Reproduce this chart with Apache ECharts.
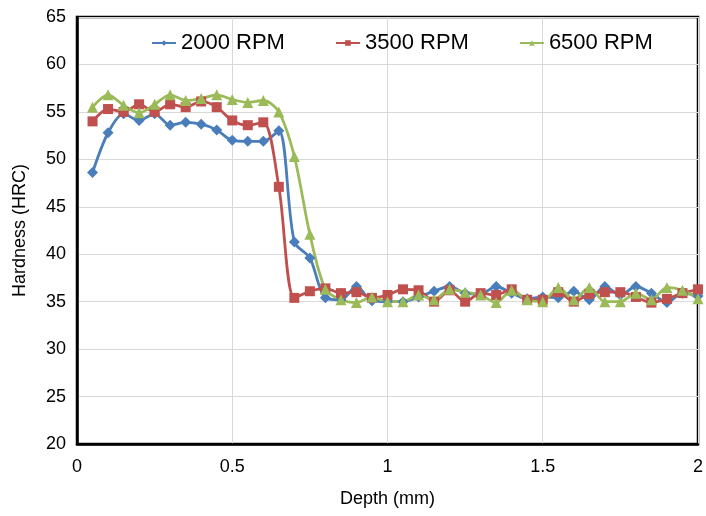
<!DOCTYPE html>
<html>
<head>
<meta charset="utf-8">
<script src="https://cdn.jsdelivr.net/npm/echarts@6/dist/echarts.min.js"></script>
<style>
    html, body { margin: 0; padding: 0; background: #fff; }
    #main-chart { width: 706px; height: 516px; }
</style>
</head>
<body>
<div id="main-chart"></div>
<script>
var depth = [0.05, 0.1, 0.15, 0.2, 0.25, 0.3, 0.35, 0.4, 0.45, 0.5,
    0.55, 0.6, 0.65, 0.7, 0.75, 0.8, 0.85, 0.9, 0.95, 1.0,
    1.05, 1.1, 1.15, 1.2, 1.25, 1.3, 1.35, 1.4, 1.45, 1.5,
    1.55, 1.6, 1.65, 1.7, 1.75, 1.8, 1.85, 1.9, 1.95, 2.0];

var rpm2000 = [48.6, 52.8, 54.8, 54.1, 54.8, 53.6, 53.9, 53.7, 53.1, 52.0,
    51.9, 51.9, 53.0, 41.3, 39.6, 35.4, 35.2, 36.6, 35.1, 35.0,
    35.0, 35.5, 36.1, 36.6, 35.9, 35.8, 36.6, 35.9, 35.3, 35.5,
    35.4, 36.1, 35.2, 36.6, 35.7, 36.6, 35.9, 34.9, 35.9, 35.6];

var rpm3500 = [54.0, 55.3, 55.0, 55.8, 55.0, 55.8, 55.5, 56.1, 55.5, 54.1,
    53.6, 53.9, 47.1, 35.4, 36.1, 36.4, 35.9, 36.0, 35.4, 35.7,
    36.3, 36.2, 35.0, 36.2, 35.0, 35.9, 35.7, 36.3, 35.2, 35.2,
    36.0, 35.0, 35.8, 36.0, 36.0, 35.5, 34.9, 35.3, 35.9, 36.3];

var rpm6500 = [55.5, 56.8, 55.7, 54.9, 55.8, 56.8, 56.2, 56.4, 56.8, 56.3,
    56.0, 56.2, 55.0, 50.3, 42.1, 36.3, 35.2, 34.9, 35.5, 35.0,
    35.0, 35.7, 35.2, 36.3, 36.0, 35.7, 34.9, 36.2, 35.2, 35.0,
    36.5, 35.2, 36.5, 35.0, 35.0, 35.9, 35.2, 36.5, 36.2, 35.3];

var seriesNames = ['2000 RPM', '3500 RPM', '6500 RPM'];
var seriesColors = ['#4a7ebb', '#c0504d', '#9bbb59'];

function pairUp(values) {
    var out = [];
    for (var i = 0; i < depth.length; i++) {
        out.push([depth[i], values[i]]);
    }
    return out;
}

var mainChart = echarts.init(document.getElementById('main-chart'));
var font = 'Liberation Sans, Arial, sans-serif';

var mainOpt = {
    animation: false,
    color: seriesColors,
    textStyle: { fontFamily: font },
    grid: {
        left: 77, right: 3, top: 17, bottom: 72,
        show: true,
        borderColor: '#000',
        borderWidth: 2.5
    },
    legend: {
        top: 27,
        left: 146,
        itemWidth: 24,
        itemHeight: 7,
        itemGap: 50,
        textStyle: { fontSize: 22, color: '#000', fontFamily: font },
        data: seriesNames
    },
    xAxis: {
        type: 'value',
        min: 0,
        max: 2,
        interval: 0.5,
        name: 'Depth (mm)',
        nameLocation: 'middle',
        nameGap: 46,
        nameTextStyle: { fontSize: 18, color: '#000' },
        axisLine: { lineStyle: { color: '#000', width: 2.5 } },
        axisTick: { show: false },
        axisLabel: { fontSize: 18, color: '#000', margin: 14 },
        splitLine: { lineStyle: { color: '#d9d9d9', width: 1 } }
    },
    yAxis: {
        type: 'value',
        min: 20,
        max: 65,
        interval: 5,
        name: 'Hardness (HRC)',
        nameLocation: 'middle',
        nameGap: 48,
        nameTextStyle: { fontSize: 18, color: '#000' },
        axisLine: { show: true, lineStyle: { color: '#000', width: 2.5 } },
        axisTick: { show: false },
        axisLabel: { fontSize: 18, color: '#000', margin: 11 },
        splitLine: { lineStyle: { color: '#d9d9d9', width: 1 } }
    },
    series: [{
        name: seriesNames[0],
        type: 'line',
        smooth: 0.3,
        symbol: 'diamond',
        symbolSize: 11,
        lineStyle: { width: 2.8 },
        data: pairUp(rpm2000)
    }, {
        name: seriesNames[1],
        type: 'line',
        smooth: 0.3,
        symbol: 'rect',
        symbolSize: 10,
        lineStyle: { width: 2.8 },
        data: pairUp(rpm3500)
    }, {
        name: seriesNames[2],
        type: 'line',
        smooth: 0.3,
        symbol: 'triangle',
        symbolSize: 11,
        lineStyle: { width: 2.8 },
        data: pairUp(rpm6500)
    }]
};

mainChart.setOption(mainOpt);
</script>
</body>
</html>
